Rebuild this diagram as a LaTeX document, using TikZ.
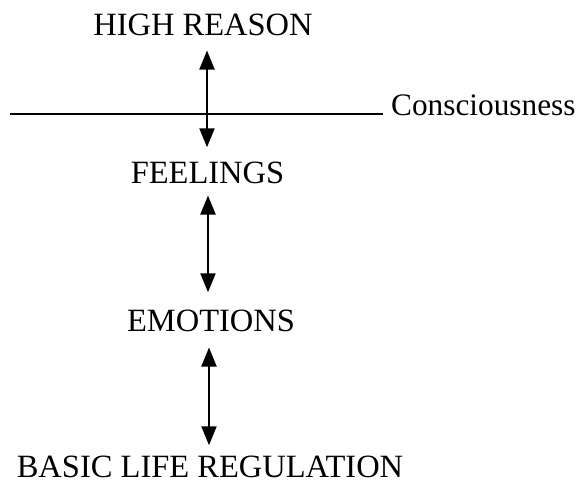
\documentclass[tikz,border=0pt]{standalone}
\usepackage{fontspec}
\setmainfont{Liberation Serif}
\usetikzlibrary{arrows.meta}
\begin{document}
\begin{tikzpicture}[x=1pt,y=-1pt,
  lbl/.style={inner sep=0pt,anchor=base,font=\fontsize{32.5}{36}\selectfont},
  tip/.style={Triangle[length=19pt,width=15pt]},
  arr/.style={line width=2pt,{Triangle[length=19pt,width=15pt]}-{Triangle[length=19pt,width=15pt]}},
  rule/.style={line width=1.5pt}]
\useasboundingbox (0,0) rectangle (582,483);
\node[lbl] (hr) at (203,35) {HIGH REASON};
\node[lbl] (fe) at (207.5,183) {FEELINGS};
\node[lbl] (em) at (211,331) {EMOTIONS};
\node[lbl] (bl) at (210,477) {BASIC LIFE REGULATION};
\node[lbl,anchor=base west,font=\fontsize{31.3}{36}\selectfont] (co) at (391,115) {Consciousness};
\coordinate (l1) at (10,114);
\draw[rule,shorten >=8pt] (l1) -- (l1 -| co.west);
\draw[arr] ([xshift=4pt,yshift=-15pt]hr.south) -- ([xshift=-0.5pt,yshift=14pt]fe.north);
\draw[arr] ([xshift=0.5pt,yshift=-12pt]fe.south) -- ([xshift=-3pt,yshift=17pt]em.north);
\draw[arr] ([xshift=-2pt,yshift=-16pt]em.south) -- ([xshift=-1pt,yshift=10pt]bl.north);
\end{tikzpicture}
\end{document}
